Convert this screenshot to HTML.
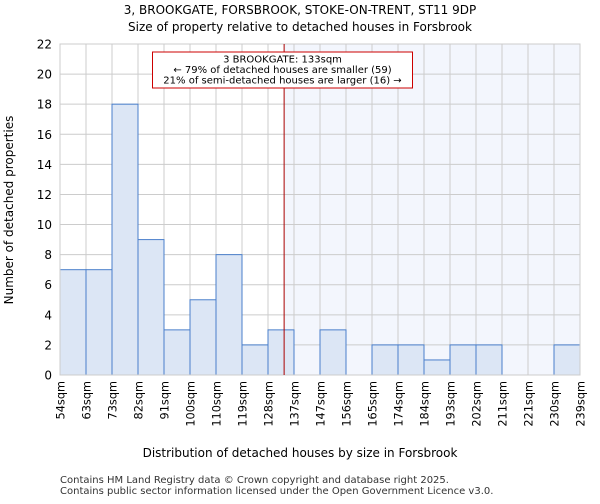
<!DOCTYPE html>
<html><head><meta charset="utf-8"><style>
body{margin:0;background:#fff;font-family:"DejaVu Sans","Liberation Sans",sans-serif;}
</style></head><body>
<svg id="chart" width="600" height="500" xmlns="http://www.w3.org/2000/svg" font-family="DejaVu Sans, Liberation Sans, sans-serif">
<text x="300" y="14" text-anchor="middle" font-size="12">3, BROOKGATE, FORSBROOK, STOKE-ON-TRENT, ST11 9DP</text>
<text x="300" y="31" text-anchor="middle" font-size="12">Size of property relative to detached houses in Forsbrook</text>
<g id="plot"></g>
<text x="300" y="457" text-anchor="middle" font-size="12">Distribution of detached houses by size in Forsbrook</text>
<text transform="translate(13,210) rotate(-90)" text-anchor="middle" font-size="12">Number of detached properties</text>
<text x="60" y="483" font-size="10" fill="#333">Contains HM Land Registry data © Crown copyright and database right 2025.</text>
<text x="60" y="494" font-size="10" fill="#333">Contains public sector information licensed under the Open Government Licence v3.0.</text>
</svg>
<script>
const binLabels=["54sqm","63sqm","73sqm","82sqm","91sqm","100sqm","110sqm","119sqm","128sqm","137sqm","147sqm","156sqm","165sqm","174sqm","184sqm","193sqm","202sqm","211sqm","221sqm","230sqm","239sqm"];
const counts=[7,7,18,9,3,5,8,2,3,0,3,0,2,2,1,2,2,0,0,2];
const yTicks=[0,2,4,6,8,10,12,14,16,18,20,22];
const markerBinPos=[8.62];
const NS="http://www.w3.org/2000/svg";
const L=60,R=580,T=44,B=375,yMax=22;
const bw=(R-L)/counts.length;
const xs=i=>L+i*bw;
const ys=v=>B-(v/yMax)*(B-T);
const g=document.getElementById('plot');
function mk(t,a,p){const e=document.createElementNS(NS,t);for(const k in a)e.setAttribute(k,a[k]);(p||g).appendChild(e);return e;}
const mx=xs(markerBinPos[0]);
let e=mk('rect',{x:mx,y:T,width:R-mx,height:B-T,fill:'#eef2fc',opacity:0.7});

yTicks.forEach(v=>{const l=mk('line',{x1:L,x2:R,y1:ys(v),y2:ys(v),stroke:'#cccccc','stroke-width':1});

const t=mk('text',{x:L-8,y:ys(v)+4.5,'text-anchor':'end','font-size':12});t.textContent=v;
});
binLabels.forEach((s,i)=>{const l=mk('line',{x1:xs(i),x2:xs(i),y1:T,y2:B,stroke:'#cccccc','stroke-width':1});

const x=xs(i);const t=mk('text',{transform:`translate(${x+4.5},${B+6}) rotate(-90)`,'text-anchor':'end','font-size':11.3});t.textContent=s;
});
counts.forEach((v,i)=>{if(v<=0)return;const r=mk('rect',{x:xs(i),y:ys(v),width:bw,height:B-ys(v),fill:'#dce6f5',stroke:'#4a7fcb','stroke-width':1});
});
e=mk('rect',{x:L,y:T,width:R-L,height:B-T,fill:'none',stroke:'#cccccc'});

e=mk('line',{x1:mx,x2:mx,y1:T,y2:B,stroke:'#aa0000','stroke-width':1});

const box=mk('g',{});
mk('rect',{x:152.5,y:52,width:260,height:36,fill:'#fff',stroke:'#cc0000','stroke-width':1},box);
["3 BROOKGATE: 133sqm","← 79% of detached houses are smaller (59)","21% of semi-detached houses are larger (16) →"].forEach((s,i)=>{
const t=mk('text',{x:282.5,y:62.5+i*10.5,'text-anchor':'middle','font-size':10},box);t.textContent=s;
});
</script>
</body></html>
